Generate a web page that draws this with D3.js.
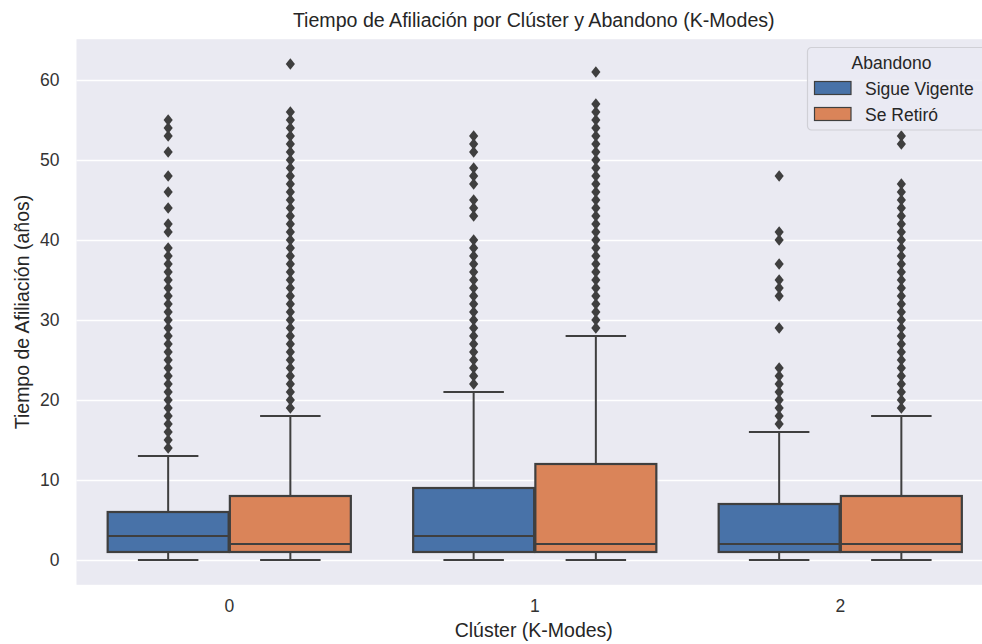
<!DOCTYPE html>
<html>
<head>
<meta charset="utf-8">
<script src="https://cdn.jsdelivr.net/npm/d3@7"></script>
<style>
  html, body { margin: 0; padding: 0; background: #ffffff; }
  svg { display: block; }
  text { font-family: "Liberation Sans", Arial, sans-serif; }
</style>
</head>
<body>
<svg id="chart" width="982" height="644"></svg>
<script>
// Categories
const clusters = ["0", "1", "2"];
const hues = ["Sigue Vigente", "Se Retiró"];
const hueColors = ["#4872a8", "#da8459"];
const yTicks = [0, 10, 20, 30, 40, 50, 60];

// Box statistics per cluster — "Sigue Vigente"
const q1Vigente = [1, 1, 1];
const medianVigente = [3, 3, 2];
const q3Vigente = [6, 9, 7];
const whiskerLowVigente = [0, 0, 0];
const whiskerHighVigente = [13, 21, 16];

// Box statistics per cluster — "Se Retiró"
const q1Retiro = [1, 1, 1];
const medianRetiro = [2, 2, 2];
const q3Retiro = [8, 12, 8];
const whiskerLowRetiro = [0, 0, 0];
const whiskerHighRetiro = [18, 28, 18];

// Outliers (years)
const outliersVigente0 = [14, 15, 16, 17, 18, 19, 20, 21, 22, 23, 24, 25, 26, 27, 28, 29, 30, 31, 32, 33, 34, 35, 36, 37, 38, 39, 41, 42, 44, 46, 48, 51, 53, 54, 55];
const outliersRetiro0 = [19, 20, 21, 22, 23, 24, 25, 26, 27, 28, 29, 30, 31, 32, 33, 34, 35, 36, 37, 38, 39, 40, 41, 42, 43, 44, 45, 46, 47, 48, 49, 50, 51, 52, 53, 54, 55, 56, 62];
const outliersVigente1 = [22, 23, 24, 25, 26, 27, 28, 29, 30, 31, 32, 33, 34, 35, 36, 37, 38, 39, 40, 43, 44, 45, 47, 48, 49, 51, 52, 53];
const outliersRetiro1 = [29, 30, 31, 32, 33, 34, 35, 36, 37, 38, 39, 40, 41, 42, 43, 44, 45, 46, 47, 48, 49, 50, 51, 52, 53, 54, 55, 56, 57, 61];
const outliersVigente2 = [17, 18, 19, 20, 21, 22, 23, 24, 29, 33, 34, 35, 37, 40, 41, 48];
const outliersRetiro2 = [19, 20, 21, 22, 23, 24, 25, 26, 27, 28, 29, 30, 31, 32, 33, 34, 35, 36, 37, 38, 39, 40, 41, 42, 43, 44, 45, 46, 47, 52, 53];

// Assemble one record per box
const outliersVigente = [outliersVigente0, outliersVigente1, outliersVigente2];
const outliersRetiro = [outliersRetiro0, outliersRetiro1, outliersRetiro2];
const boxes = [];
clusters.forEach((c, i) => {
  boxes.push({ cluster: c, hue: 0, q1: q1Vigente[i], med: medianVigente[i], q3: q3Vigente[i],
               lo: whiskerLowVigente[i], hi: whiskerHighVigente[i], out: outliersVigente[i] });
  boxes.push({ cluster: c, hue: 1, q1: q1Retiro[i], med: medianRetiro[i], q3: q3Retiro[i],
               lo: whiskerLowRetiro[i], hi: whiskerHighRetiro[i], out: outliersRetiro[i] });
});

// Layout
const plot = { left: 76.5, right: 993, top: 39.2, bottom: 584.8 };
const lineColor = "#3f3f3f";
const svg = d3.select("#chart");

const x = d3.scaleBand().domain(clusters).range([plot.left, plot.right]).padding(0);
const y = d3.scaleLinear().domain([-3.1, 65.1]).range([plot.bottom, plot.top]);

const boxW = x.bandwidth() * 0.396;
const hueCenter = (d) => x(d.cluster) + x.bandwidth() / 2 + (d.hue === 0 ? -1 : 1) * x.bandwidth() * 0.2;

// Axes background
svg.append("rect")
  .attr("x", plot.left).attr("y", plot.top)
  .attr("width", plot.right - plot.left).attr("height", plot.bottom - plot.top)
  .attr("fill", "#eaeaf2");

// Horizontal grid + y tick labels via axis
const yAxis = d3.axisLeft(y).tickValues(yTicks).tickSize(-(plot.right - plot.left)).tickPadding(17);
const gy = svg.append("g").attr("transform", `translate(${plot.left},0)`).call(yAxis);
gy.select(".domain").remove();
gy.selectAll(".tick line").attr("stroke", "#ffffff").attr("stroke-width", 1.4);
gy.selectAll(".tick text")
  .attr("fill", "#333333").attr("font-size", 17.5)
  .attr("font-family", "Liberation Sans, Arial, sans-serif");

// x tick labels
const xAxis = d3.axisBottom(x).tickSize(0).tickPadding(15);
const gx = svg.append("g").attr("transform", `translate(0,${plot.bottom})`).call(xAxis);
gx.select(".domain").remove();
gx.selectAll(".tick text")
  .attr("fill", "#333333").attr("font-size", 17.5)
  .attr("font-family", "Liberation Sans, Arial, sans-serif");

// Boxes
const g = svg.append("g");
const box = g.selectAll("g.box").data(boxes).join("g").attr("class", "box");

// whiskers
box.append("line")
  .attr("x1", hueCenter).attr("x2", hueCenter)
  .attr("y1", d => y(d.q3)).attr("y2", d => y(d.hi))
  .attr("stroke", lineColor).attr("stroke-width", 2);
box.append("line")
  .attr("x1", hueCenter).attr("x2", hueCenter)
  .attr("y1", d => y(d.q1)).attr("y2", d => y(d.lo))
  .attr("stroke", lineColor).attr("stroke-width", 2);
// caps
box.append("line")
  .attr("x1", d => hueCenter(d) - boxW / 4).attr("x2", d => hueCenter(d) + boxW / 4)
  .attr("y1", d => y(d.hi)).attr("y2", d => y(d.hi))
  .attr("stroke", lineColor).attr("stroke-width", 2);
box.append("line")
  .attr("x1", d => hueCenter(d) - boxW / 4).attr("x2", d => hueCenter(d) + boxW / 4)
  .attr("y1", d => y(d.lo)).attr("y2", d => y(d.lo))
  .attr("stroke", lineColor).attr("stroke-width", 2);
// box body
box.append("rect")
  .attr("x", d => hueCenter(d) - boxW / 2)
  .attr("y", d => y(d.q3))
  .attr("width", boxW)
  .attr("height", d => y(d.q1) - y(d.q3))
  .attr("fill", d => hueColors[d.hue])
  .attr("stroke", lineColor).attr("stroke-width", 2.2);
// median
box.append("line")
  .attr("x1", d => hueCenter(d) - boxW / 2).attr("x2", d => hueCenter(d) + boxW / 2)
  .attr("y1", d => y(d.med)).attr("y2", d => y(d.med))
  .attr("stroke", lineColor).attr("stroke-width", 2.2);
// outliers (thin diamonds)
const diamond = "M0,-5.8L4.6,0L0,5.8L-4.6,0Z";
box.each(function (d) {
  d3.select(this).selectAll("path.flier").data(d.out).join("path")
    .attr("class", "flier")
    .attr("d", diamond)
    .attr("transform", v => `translate(${hueCenter(d)},${y(v)})`)
    .attr("fill", lineColor);
});

// Title and axis labels
svg.append("text")
  .attr("x", (plot.left + plot.right) / 2 - 1).attr("y", 27)
  .attr("text-anchor", "middle").attr("font-size", 19.6).attr("fill", "#262626")
  .text("Tiempo de Afiliación por Clúster y Abandono (K-Modes)");
svg.append("text")
  .attr("x", (plot.left + plot.right) / 2 - 1).attr("y", 637)
  .attr("text-anchor", "middle").attr("font-size", 19.5).attr("fill", "#262626")
  .text("Clúster (K-Modes)");
svg.append("text")
  .attr("transform", `translate(29,${(plot.top + plot.bottom) / 2}) rotate(-90)`)
  .attr("text-anchor", "middle").attr("font-size", 19.5).attr("fill", "#262626")
  .text("Tiempo de Afiliación (años)");

// Legend
const lg = svg.append("g").attr("transform", "translate(807.5,47.5)");
lg.append("rect")
  .attr("width", 178).attr("height", 82.5).attr("rx", 4)
  .attr("fill", "#eaeaf2").attr("fill-opacity", 0.8)
  .attr("stroke", "#d0d0d6").attr("stroke-width", 1.2);
lg.append("text")
  .attr("x", 84).attr("y", 21).attr("text-anchor", "middle")
  .attr("font-size", 17.5).attr("fill", "#262626").text("Abandono");
hues.forEach((h, i) => {
  const row = lg.append("g").attr("transform", `translate(0,${34 + i * 26})`);
  row.append("rect")
    .attr("x", 7).attr("y", 0).attr("width", 36.5).attr("height", 13)
    .attr("fill", hueColors[i]).attr("stroke", lineColor).attr("stroke-width", 1.2);
  row.append("text")
    .attr("x", 57.5).attr("y", 13).attr("font-size", 17.5).attr("fill", "#262626").text(h);
});
</script>
</body>
</html>
